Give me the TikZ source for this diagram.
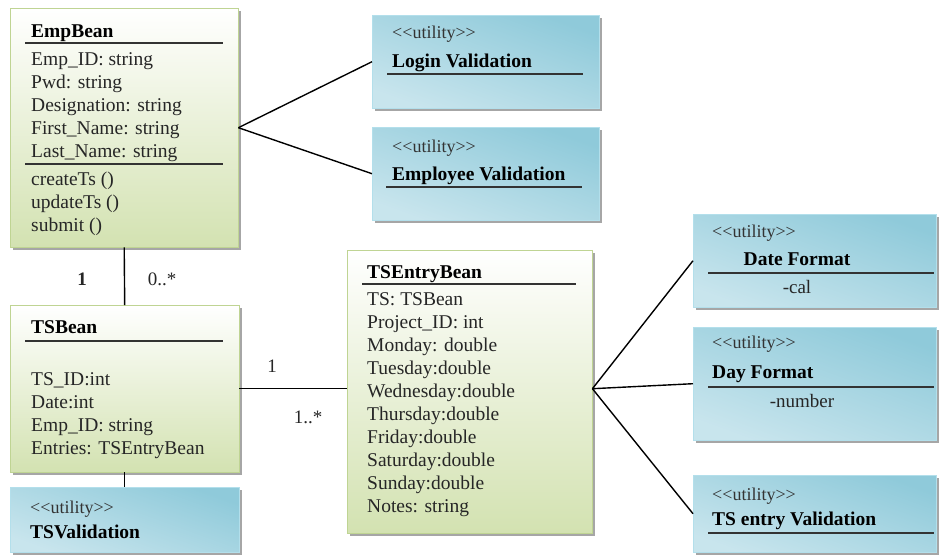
\documentclass[tikz,border=0pt]{standalone}
\usepackage{fontspec}
\setmainfont{Liberation Serif}
\usetikzlibrary{shadows}

\definecolor{beanfill}{HTML}{D3E2B1}
\definecolor{beanline}{HTML}{BFD493}
\definecolor{utilfill}{HTML}{8FCADA}
\definecolor{utillight}{HTML}{E0F0F5}
\definecolor{utilline}{HTML}{B3DFEB}

\newcommand{\utilitytag}{<\kern0pt<utility>\kern0pt>}

\tikzset{
  box/.style={anchor=north west, inner sep=0pt,
    drop shadow={shadow xshift=3pt, shadow yshift=-3pt, fill=black!35, opacity=1}},
  bean/.style={box, draw=beanline, top color=white, bottom color=beanfill},
  util/.style={box, draw=utilline, top color=utilfill, middle color=utillight,
    bottom color=utillight!70!utilfill, shading angle=-20},
  txt/.style={anchor=north west, inner sep=0pt, align=left, text=black!85,
    font=\fontsize{19.5}{23}\selectfont},
  ttl/.style={anchor=base west, inner sep=0pt, font=\bfseries\fontsize{19.5}{23}\selectfont},
  stereo/.style={anchor=base west, inner sep=0pt, text=black!80,
    font=\fontsize{18}{20}\selectfont},
  mult/.style={anchor=base, inner sep=0pt, text=black!85, font=\fontsize{19}{23}\selectfont},
  sep/.style={line width=1.8pt, black!80},
  link/.style={line width=1.4pt}
}

\begin{document}
\begin{tikzpicture}[x=1pt,y=-1pt]
\useasboundingbox (0,0) rectangle (939,555);

% EmpBean
\node[bean, minimum width=228pt, minimum height=239pt] (emp) at (10,8) {};
\node[ttl] (empname) at (31,37) {EmpBean};
\draw[sep] (25,43) -- (223,43);
\node[txt] (empattr) at (31,52) {Emp\_ID: string\\Pwd: string\\Designation: string\\First\_Name: string\\Last\_Name: string};
\draw[sep] (25,164) -- (223,164);
\node[txt] (empops) at (31,171.5) {createTs ()\\updateTs ()\\submit ()};

% TSBean
\node[bean, minimum width=229pt, minimum height=167pt] (ts) at (10,305) {};
\node[ttl] (tsname) at (31,333) {TSBean};
\draw[sep] (25,341) -- (223,341);
\node[txt] (tsattr) at (31,372) {TS\_ID:int\\Date:int\\Emp\_ID: string\\Entries: TSEntryBean};

% TSValidation
\node[util, minimum width=229pt, minimum height=65pt] (tsval) at (10,487) {};
\node[stereo] (tsvaltag) at (30,513) {\utilitytag};
\node[ttl] (tsvalname) at (30,538) {TSValidation};

% TSEntryBean
\node[bean, minimum width=245pt, minimum height=283pt] (entry) at (347,250) {};
\node[ttl] (entryname) at (367,278) {TSEntryBean};
\draw[sep] (362,284) -- (576,284);
\node[txt] (entryattr) at (367,292) {TS: TSBean\\Project\_ID: int\\Monday: double\\Tuesday:double\\Wednesday:double\\Thursday:double\\Friday:double\\Saturday:double\\Sunday:double\\Notes: string};

% Login Validation
\node[util, minimum width=227pt, minimum height=93pt] (login) at (372,15) {};
\node[stereo] (logintag) at (392,38) {\utilitytag};
\node[ttl] (loginname) at (392,67) {Login Validation};
\draw[sep] (387,74) -- (583,74);

% Employee Validation
\node[util, minimum width=227pt, minimum height=93pt] (empval) at (372,127) {};
\node[stereo] (empvaltag) at (392,152) {\utilitytag};
\node[ttl] (empvalname) at (392,180) {Employee Validation};
\draw[sep] (386,187) -- (582,187);

% Date Format
\node[util, minimum width=243pt, minimum height=93pt] (datef) at (693,214) {};
\node[stereo] (dateftag) at (712,237) {\utilitytag};
\node[ttl, anchor=base] (datefname) at (797,265) {Date Format};
\draw[sep] (708,273) -- (934,273);
\node[mult] (datefattr) at (797,293) {-cal};

% Day Format
\node[util, minimum width=243pt, minimum height=113pt] (dayf) at (693,327) {};
\node[stereo] (dayftag) at (712,348) {\utilitytag};
\node[ttl] (dayfname) at (712,378) {Day Format};
\draw[sep] (708,387) -- (934,387);
\node[mult] (dayfattr) at (802,407) {-number};

% TS entry Validation
\node[util, minimum width=243pt, minimum height=77pt] (entryval) at (693,475) {};
\node[stereo] (entryvaltag) at (712,500) {\utilitytag};
\node[ttl] (entryvalname) at (712,525) {TS entry Validation};
\draw[sep] (708,533) -- (934,533);

% connectors
\draw[link] (emp.east) -- (login.west);
\draw[link] (emp.east) -- (empval.west);
\draw[link] (emp.south) -- (ts.north);
\draw[link] (ts.south) -- (tsval.north);
\draw[link] (ts.east) -- (ts.east -| entry.west);
\coordinate (hub) at (ts.east -| entry.east);
\draw[link] (hub) -- (datef.west);
\draw[link] (hub) -- (dayf.west);
\draw[link] (hub) -- (entryval.west);

% multiplicities
\node[mult, font=\bfseries\fontsize{19}{23}\selectfont] (empone) at (82,285) {1};
\node[mult] (tsmany) at (162,285) {0..*};
\node[mult] (tsone) at (272,372) {1};
\node[mult] (entrymany) at (308,423) {1..*};

\end{tikzpicture}
\end{document}
